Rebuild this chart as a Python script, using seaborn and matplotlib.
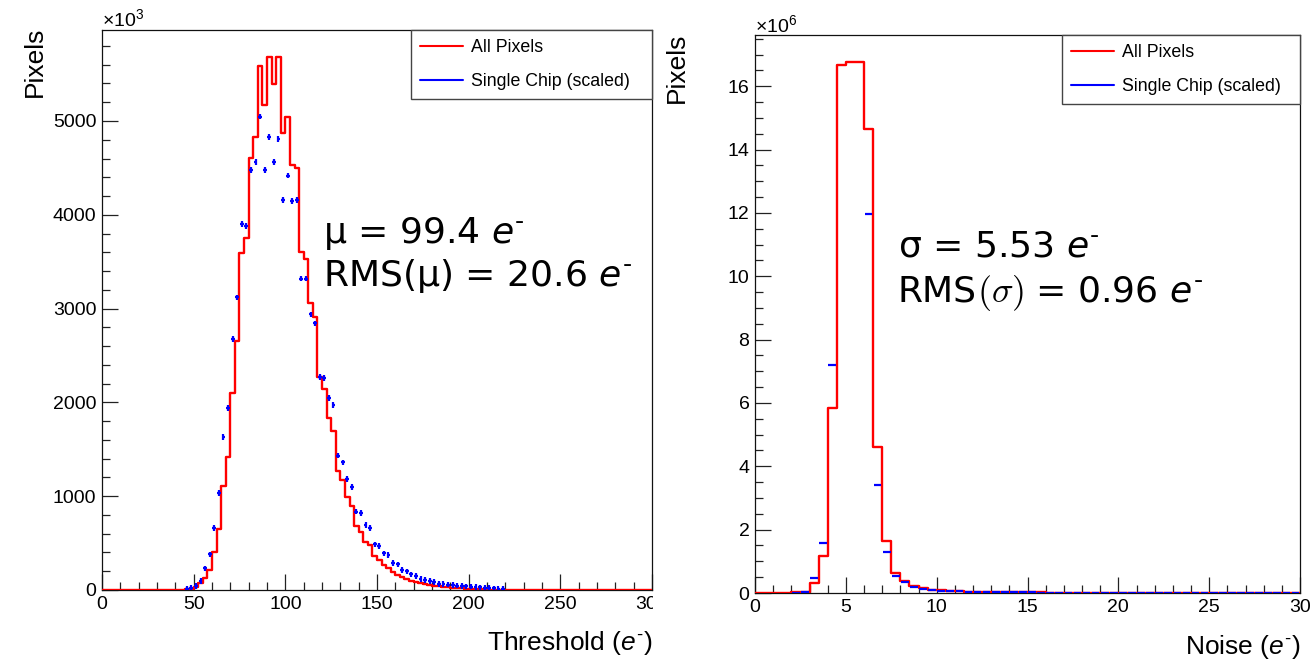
import numpy as np
import pandas as pd
import matplotlib
matplotlib.use("Agg")
import matplotlib.pyplot as plt
from matplotlib.lines import Line2D
from matplotlib.ticker import MultipleLocator
from matplotlib.transforms import Bbox, TransformedBbox
import seaborn as sns

sns.set_style("ticks")
plt.rcParams["font.family"] = ["Liberation Sans", "DejaVu Sans"]
plt.rcParams["mathtext.fontset"] = "custom"
plt.rcParams["mathtext.rm"] = "Liberation Sans"
plt.rcParams["mathtext.it"] = "Liberation Sans:italic"
for key in ["text.color", "axes.labelcolor", "xtick.color", "ytick.color"]:
    plt.rcParams[key] = "black"

# --- Threshold histogram (x10^3 pixels), 2.5 e- bins from 0 to 300 ---
thr_range = (0, 300)
thr_bin = 2.5
thr_all = (
    [0] * 17
    + [2, 8, 15, 35, 71, 131, 213, 408, 647, 1109, 1421, 2097, 2655,
       3590, 3753, 4602, 4833, 5586, 5171, 5686, 5391, 5686, 4869, 5046,
       4531, 4496, 3607, 3525, 3056, 2914, 2268, 2140, 1830, 1700, 1270,
       1176, 990, 900, 680, 613, 515, 485, 364, 320, 267, 231, 190, 165,
       135, 117, 100, 89, 75, 64, 55, 47, 40, 34, 28, 23, 19, 16, 13, 11,
       9, 7, 6, 5, 4, 3, 3, 2, 2]
    + [1] * 10
    + [0] * 20
)
thr_chip = (
    [np.nan] * 18
    + [8, 20, 43, 96, 231, 380, 664, 1031, 1634, 1937, 2676, 3120, 3899,
       3881, 4478, 4566, 5046, 4478, 4826, 4566, 4805, 4158, 4417, 4150,
       4158, 3319, 3319, 2939, 2843, 2268, 2260, 2050, 1972, 1432, 1361,
       1183, 1101, 835, 818, 693, 658, 487, 472, 391, 373, 288, 272, 213,
       199, 167, 152, 117, 107, 93, 85, 67, 64, 57, 53, 46, 43, 39, 36, 30,
       27, 22, 20, 16, 14, 11]
    + [np.nan] * 32
)

# --- Noise histogram (x10^6 pixels), 0.5 e- bins from 0 to 30 ---
noise_range = (0, 30)
noise_bin = 0.5
noise_all = [
    0, 0, 0, 0, 0.02, 0.04, 0.31, 1.17, 5.83, 16.67, 16.78, 16.78, 14.66,
    4.62, 1.64, 0.62, 0.39, 0.22, 0.15, 0.10, 0.08, 0.065, 0.055, 0.045,
    0.04, 0.035, 0.03, 0.027, 0.024, 0.021, 0.019, 0.017, 0.015, 0.014,
    0.013, 0.012, 0.011, 0.010, 0.009, 0.008, 0.007, 0.007, 0.006, 0.006,
    0.006, 0.005, 0.005, 0.005, 0.005, 0.004, 0.004, 0.004, 0.004, 0.003,
    0.003, 0.003, 0.003, 0.003, 0.002, 0.002,
]
noise_chip = [
    np.nan, np.nan, np.nan, np.nan, 0.01, 0.03, 0.46, 1.57, 7.20,
    np.nan, np.nan, np.nan, 11.96, 3.41, 1.28, 0.54, 0.36, 0.20, 0.13,
    0.09, 0.07, 0.06, 0.05, 0.04, 0.035, 0.03, 0.027, 0.024, 0.021, 0.019,
    0.017, 0.015, 0.014, 0.013, 0.012, 0.011, 0.010, 0.009, 0.008, 0.007,
    0.007, 0.006, 0.006, 0.006, 0.005, 0.005, 0.005, 0.005, 0.004, 0.004,
    0.004, 0.004, 0.003, 0.003, 0.003, 0.003, 0.003, 0.002, 0.002, 0.002,
]

legend_labels = ["All Pixels", "Single Chip (scaled)"]

W, H = 1311, 661
fig = plt.figure(figsize=(W / 100, H / 100), dpi=100)
ax1 = fig.add_axes([102 / W, 1 - 590 / H, 550 / W, 560 / H])
ax2 = fig.add_axes([755 / W, 1 - 593 / H, 545 / W, 558 / H])


def draw_hist(ax, rng, bw, all_vals, chip_vals, yerr):
    nbins = int(round((rng[1] - rng[0]) / bw))
    centers = rng[0] + bw * (np.arange(nbins) + 0.5)
    df = pd.DataFrame({"x": centers, "w": all_vals})
    sns.histplot(data=df, x="x", weights="w", bins=nbins, binrange=rng,
                 element="step", fill=False, color="#ff0000", linewidth=1.7,
                 ax=ax, zorder=3)
    chip = np.asarray(chip_vals, dtype=float)
    ok = ~np.isnan(chip)
    ax.errorbar(centers[ok], chip[ok], xerr=0.42 * bw, yerr=yerr, fmt="none",
                ecolor="#0000ff", elinewidth=1.6, capsize=0, zorder=4)


def style_axes(ax, xlim, ylim, xmaj, xmin, ymaj, ymin):
    ax.set_xlim(*xlim)
    ax.set_ylim(*ylim)
    ax.xaxis.set_major_locator(MultipleLocator(xmaj))
    ax.xaxis.set_minor_locator(MultipleLocator(xmin))
    ax.yaxis.set_major_locator(MultipleLocator(ymaj))
    ax.yaxis.set_minor_locator(MultipleLocator(ymin))
    ax.tick_params(which="both", direction="in", top=False, right=False,
                   color="#222222", width=0.9, labelsize=14, pad=4,
                   labelcolor="black")
    ax.tick_params(which="major", length=11.5)
    ax.tick_params(which="minor", length=5.8)
    for sp in ax.spines.values():
        sp.set_visible(True)
        sp.set_linewidth(0.9)
        sp.set_color("#111111")
    ax.set_ylabel("Pixels", fontsize=19, loc="top")


draw_hist(ax1, thr_range, thr_bin, thr_all, thr_chip, 30)
draw_hist(ax2, noise_range, noise_bin, noise_all, noise_chip, 0.02)

style_axes(ax1, (0, 300), (0, 5970), 50, 10, 1000, 200)
style_axes(ax2, (0, 30), (0, 17.62), 5, 1, 2, 0.5)

ax1.set_xlabel(r"Threshold ($e^{\text{-}}$)", fontsize=19, loc="right")
ax2.set_xlabel(r"Noise ($e^{\text{-}}$)", fontsize=19, loc="right")
ax1.xaxis.set_label_coords(1.0, -0.069)
ax2.xaxis.set_label_coords(1.0, -0.072)
ax1.yaxis.set_label_coords(-0.1, 1.006)
ax2.yaxis.set_label_coords(-0.122, 1.004)

ax1.text(0, 1.007, r"$\times10^{3}$", transform=ax1.transAxes, ha="left",
         va="baseline", fontsize=14)
ax2.text(0, 1.006, r"$\times10^{6}$", transform=ax2.transAxes, ha="left",
         va="baseline", fontsize=14)

handles = [Line2D([], [], color="#ff0000", lw=1.5),
           Line2D([], [], color="#0000ff", lw=1.5)]
for ax, x0 in [(ax1, 0.5618), (ax2, 0.5633)]:
    leg = ax.legend(handles, legend_labels, loc="upper left",
                    bbox_to_anchor=(x0, 0, 1 - x0, 1.0), mode="expand",
                    borderaxespad=0, fancybox=False, framealpha=1,
                    fontsize=12.8, handlelength=2.4, handletextpad=0.45,
                    labelspacing=0.95, borderpad=0.5)
    leg.get_frame().set_edgecolor("#444444")
    leg.get_frame().set_linewidth(1.0)

# --- annotations ---
FS = 26
ann = dict(fontsize=FS, family="DejaVu Sans", va="baseline",
           math_fontfamily="dejavusans")
ax1.text(0.402, 0.620, r"μ = 99.4 $e^{\text{-}}$", transform=ax1.transAxes, **ann)
ax1.text(0.402, 0.543, r"RMS(μ) = 20.6 $e^{\text{-}}$", transform=ax1.transAxes,
         **ann)
ax2.text(0.262, 0.603, r"σ = 5.53 $e^{\text{-}}$", transform=ax2.transAxes, **ann)
t_rms = ax2.text(0.262, 0.522, "RMS", transform=ax2.transAxes, fontsize=FS,
                 family="DejaVu Sans", va="baseline")

fig.canvas.draw()
renderer = fig.canvas.get_renderer()
base_y = ax2.transAxes.transform((0.262, 0.522))[1]
bb = t_rms.get_window_extent(renderer)
t_sig = fig.text(bb.x1 / W, base_y / H, r"$(\sigma)$", fontsize=FS,
                 va="baseline", math_fontfamily="cm")
bb = t_sig.get_window_extent(renderer)
fig.text(bb.x1 / W, base_y / H, r" = 0.96 $e^{\text{-}}$", fontsize=FS,
         family="DejaVu Sans", va="baseline", math_fontfamily="dejavusans")

# the left canvas is cut just after its frame
clip = TransformedBbox(Bbox.from_extents(0, 0, 653 / W, 1), fig.transFigure)
for lbl in ax1.get_xticklabels():
    lbl.set_clip_box(clip)
    lbl.set_clip_on(True)

fig.savefig("out.png", dpi=100, facecolor="white")
